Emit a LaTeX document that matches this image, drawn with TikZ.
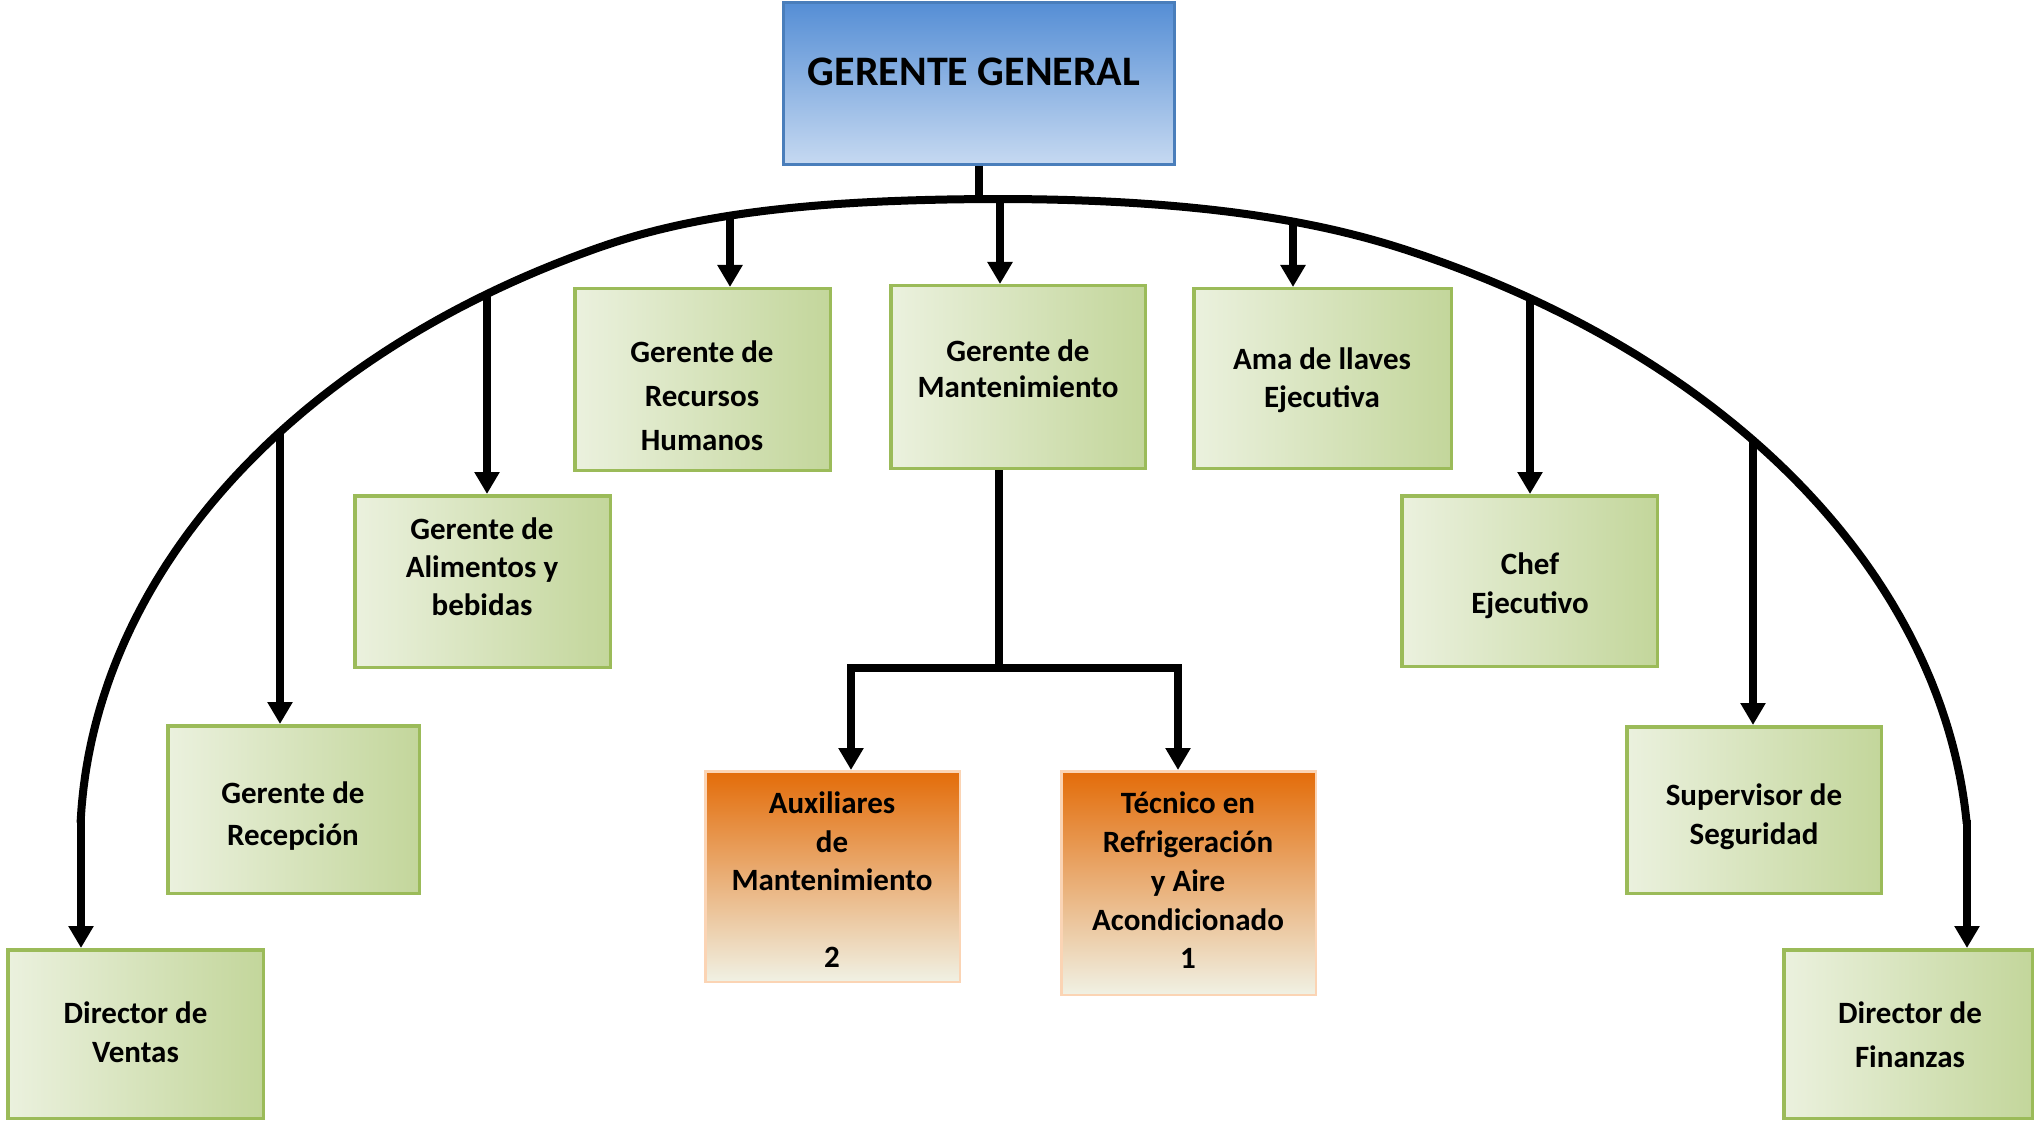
\documentclass[tikz,border=0pt]{standalone}
\usepackage{fontspec}
\setmainfont{Carlito}
\usetikzlibrary{arrows.meta}
\definecolor{gL}{RGB}{235,241,222}
\definecolor{gR}{RGB}{195,214,155}
\definecolor{gB}{RGB}{155,187,89}
\definecolor{bT}{RGB}{85,142,213}
\definecolor{bB}{RGB}{198,217,241}
\definecolor{bE}{RGB}{74,126,187}
\definecolor{oT}{RGB}{227,108,9}
\definecolor{oM}{RGB}{234,172,140}
\definecolor{oB}{RGB}{240,241,228}
\definecolor{oE}{RGB}{251,212,180}
\begin{document}
\begin{tikzpicture}[x=1pt,y=-1pt,
 gbox/.style={draw=gB, line width=3.5pt, left color=gL, right color=gR, inner sep=0pt},
 obox/.style={draw=oE, line width=2.5pt, top color=oT, middle color=oM, bottom color=oB, inner sep=0pt},
 topbox/.style={draw=bE, line width=3pt, top color=bT, bottom color=bB, inner sep=0pt},
 lbl/.style={font=\bfseries\fontsize{31}{#1}\selectfont, align=center, inner sep=0pt, text=black},
 lbl/.default=39,
 conn/.style={line width=8pt, draw=black},
 arr/.style={conn, -{Triangle[width=24pt,length=22pt]}},
]
\useasboundingbox (0,0) rectangle (2037,1123);

% boxes
\node[topbox, minimum width=391pt, minimum height=162pt] (gg) at (979,83.5) {};
\node[gbox, minimum width=255.5pt, minimum height=181.5pt] (rrhh) at (702.5,379.5) {};
\node[gbox, minimum width=254.5pt, minimum height=182.5pt] (mant) at (1018,377) {};
\node[gbox, minimum width=257.5pt, minimum height=179.5pt] (ama) at (1322.5,378.5) {};
\node[gbox, minimum width=255.5pt, minimum height=171.5pt] (alim) at (482.5,581.5) {};
\node[gbox, minimum width=255.5pt, minimum height=170.5pt] (chef) at (1529.5,581) {};
\node[gbox, minimum width=251.5pt, minimum height=167.5pt] (recep) at (293.5,809.5) {};
\node[gbox, minimum width=254.5pt, minimum height=166.5pt] (super) at (1754,810) {};
\node[gbox, minimum width=255.5pt, minimum height=168.5pt] (ventas) at (135.5,1034) {};
\node[gbox, minimum width=248.5pt, minimum height=168.5pt] (finan) at (1908,1034) {};
\node[obox, minimum width=254.5pt, minimum height=210.5pt] (aux) at (832.5,876.5) {};
\node[obox, minimum width=254.5pt, minimum height=223.5pt] (tec) at (1188.5,883) {};

% texts
\node[font=\bfseries\fontsize{42}{50}\selectfont, inner sep=0pt] (gg-t) at (974,72) {GERENTE GENERAL};
\node[lbl=44] (rrhh-t) at (702,396) {Gerente de\\Recursos\\Humanos};
\node[lbl=36] (mant-t) at (1018,369) {Gerente de\\Mantenimiento};
\node[lbl=38] (ama-t) at (1322,380) {Ama de llaves\\Ejecutiva};
\node[lbl=38] (alim-t) at (482,567) {Gerente de\\Alimentos y\\bebidas};
\node[lbl] (chef-t) at (1530,585.5) {Chef\\Ejecutivo};
\node[lbl=42] (recep-t) at (293,816) {Gerente de\\Recepción};
\node[lbl] (super-t) at (1754,817) {Supervisor de\\Seguridad};
\node[lbl] (ventas-t) at (135.5,1032.5) {Director de\\Ventas};
\node[lbl=44] (finan-t) at (1910,1035) {Director de\\Finanzas};
\node[lbl=38.5] (aux-t) at (832,880) {Auxiliares\\de\\Mantenimiento\\ \\2};
\node[lbl=38.8] (tec-t) at (1188,880.5) {Técnico en\\Refrigeración\\y Aire\\Acondicionado\\1};

% arc (two elliptical halves, slightly flattened at the top)
\draw[conn, line cap=butt] plot[domain=2:90, samples=150, variable=\t, smooth]
 ({1000-920*cos(\t)}, {846-665*sin(\t)+18*(max(0,1-(920*cos(\t)/400)^2))^2});
\draw[conn, line cap=butt] plot[domain=3.9:90, samples=150, variable=\t, smooth]
 ({1000+969*cos(\t)}, {870-683*sin(\t)+12*(max(0,1-(969*cos(\t)/400)^2))^2});

% points on the arc
\coordinate (top) at (979,200);
\coordinate (aVen) at (81,819);
\coordinate (aRec) at (280,432);
\coordinate (aAli) at (487,294);
\coordinate (aRRH) at (730,216);
\coordinate (aMan) at (1000,199);
\coordinate (aAma) at (1293,222);
\coordinate (aChe) at (1530,298);
\coordinate (aSup) at (1753,440);
\coordinate (aFin) at (1967,820);

\draw[conn] (gg.south -| top) -- (top);
\draw[arr] (aVen) -- (aVen |- ventas.north);
\draw[arr] (aRec) -- (aRec |- recep.north);
\draw[arr] (aAli) -- (aAli |- alim.north);
\draw[arr] (aRRH) -- (aRRH |- rrhh.north);
\draw[arr] (aMan) -- (aMan |- mant.north);
\draw[arr] (aAma) -- (aAma |- ama.north);
\draw[arr] (aChe) -- (aChe |- chef.north);
\draw[arr] (aSup) -- (aSup |- super.north);
\draw[arr] (aFin) -- (aFin |- finan.north);

% maintenance branch
\coordinate (br) at (999,668);
\coordinate (brL) at (851,668);
\coordinate (brR) at (1178,668);
\draw[conn] (mant.south -| br) -- (br);
\draw[arr, line join=miter] (br) -- (brL) -- (brL |- aux.north);
\draw[arr, line join=miter] (br) -- (brR) -- (brR |- tec.north);
\end{tikzpicture}
\end{document}
